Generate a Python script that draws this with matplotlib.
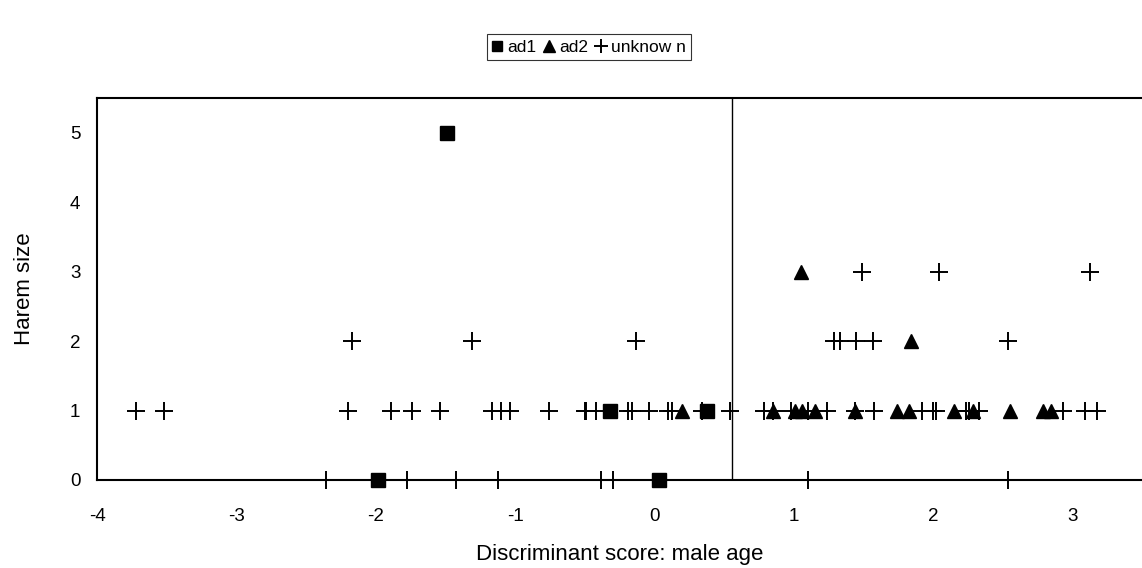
import matplotlib
matplotlib.use('Agg')
import matplotlib.pyplot as plt

plt.rcParams['font.family'] = ['Liberation Sans', 'DejaVu Sans']
plt.rcParams['axes.unicode_minus'] = False

# ad1 males (squares)
ad1_x = [-1.98, 0.03, -0.32, 0.38, -1.49]
ad1_y = [0, 0, 1, 1, 5]

# ad2 males (triangles)
ad2_x = [0.20, 0.85, 1.01, 1.06, 1.15, 1.44, 1.74, 1.83, 2.15, 2.29, 2.55, 2.79, 2.85,
         1.84, 1.05]
ad2_y = [1, 1, 1, 1, 1, 1, 1, 1, 1, 1, 1, 1, 1,
         2, 3]

# unknown males (plus)
unk_x0 = [-2.355, -1.773, -1.421, -1.12, -0.38, -0.30, 1.105, 2.54]
unk_x1 = [-3.72, -3.52, -2.20, -1.89, -1.74, -1.54, -1.163, -1.098, -1.034, -0.754,
          -0.50, -0.49, -0.416, -0.19, -0.16, -0.04, 0.10, 0.13, 0.34, 0.54, 0.79, 0.85,
          0.98, 1.10, 1.24, 1.44, 1.58, 1.92, 2.00, 2.02, 2.24, 2.26, 2.33, 2.93, 3.09, 3.18]
unk_x2 = [-2.17, -1.31, -0.13, 1.29, 1.33, 1.45, 1.57, 2.54]
unk_x3 = [1.49, 2.04, 3.13]
unk_x = unk_x0 + unk_x1 + unk_x2 + unk_x3
unk_y = [0] * len(unk_x0) + [1] * len(unk_x1) + [2] * len(unk_x2) + [3] * len(unk_x3)

cutoff = 0.56
x_ticks = [-4, -3, -2, -1, 0, 1, 2, 3]
y_ticks = [0, 1, 2, 3, 4, 5]

fig = plt.figure(figsize=(11.42, 5.68), dpi=100)
ax = fig.add_axes([97 / 1142, 88 / 568, 1 - 97 / 1142, 382 / 568])

ax.plot(ad1_x, ad1_y, 's', color='black', markersize=9.5, linestyle='none',
        label='ad1', clip_on=False, zorder=3)
ax.plot(ad2_x, ad2_y, '^', color='black', markersize=10, linestyle='none',
        label='ad2', clip_on=False, zorder=3)
ax.plot(unk_x, unk_y, '+', color='black', markersize=13, markeredgewidth=1.4,
        linestyle='none', label='unknow n', clip_on=False, zorder=4)

ax.axvline(cutoff, color='black', linewidth=1)

ax.set_xlim(-4, 3.5)
ax.set_ylim(0, 5.5)
ax.set_xticks(x_ticks)
ax.set_yticks(y_ticks)
ax.tick_params(axis='both', length=0, labelsize=13.5)
ax.tick_params(axis='x', pad=20)
ax.tick_params(axis='y', pad=12)

for side in ['left', 'bottom', 'top']:
    ax.spines[side].set_linewidth(1.5)
ax.spines['right'].set_visible(False)

ax.set_xlabel('Discriminant score: male age', fontsize=16, labelpad=14)
ax.set_ylabel('Harem size', fontsize=16, labelpad=25)

leg = fig.legend(loc='center', bbox_to_anchor=(589 / 1142, 1 - 47 / 568), ncol=3,
                 fontsize=12.5, frameon=True, fancybox=False, handlelength=0.6,
                 handletextpad=0.3, columnspacing=0.4, borderpad=0.3,
                 borderaxespad=0, markerscale=0.8)
leg.get_frame().set_edgecolor('black')
leg.get_frame().set_linewidth(0.8)

fig.savefig('out.png', dpi=100)
